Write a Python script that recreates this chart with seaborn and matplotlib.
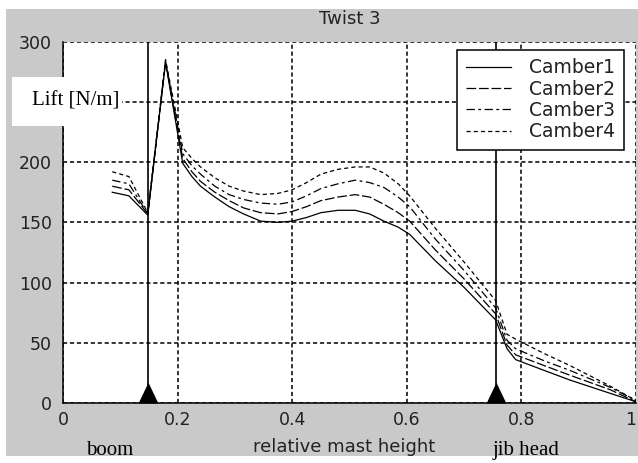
import numpy as np
import pandas as pd
import seaborn as sns
import matplotlib.pyplot as plt
from matplotlib.patches import Rectangle

# data (relative mast height vs lift per camber)
x_pos = [0.086, 0.115, 0.148, 0.179, 0.209, 0.225, 0.24, 0.265, 0.29, 0.315,
         0.345, 0.375, 0.40, 0.425, 0.45, 0.48, 0.51, 0.535, 0.56, 0.585,
         0.605, 0.65, 0.70, 0.755, 0.775, 0.79, 0.84, 0.885, 0.955, 1.0]
camber1 = [175, 172, 156, 283, 199, 188, 180, 171, 163, 157, 151, 150, 151, 154, 158,
           160, 160, 157, 151, 146, 140, 118, 96, 69, 45, 36, 27, 19, 8, 1]
camber2 = [180, 177, 157, 283, 203, 192, 184, 175, 168, 162, 158, 157, 159, 163, 168,
           171, 173, 171, 165, 158, 151, 127, 103, 74, 48, 40, 31, 23, 11, 1]
camber3 = [185, 182, 157, 284, 207, 197, 190, 180, 173, 169, 166, 165, 167, 172, 178,
           182, 185, 183, 179, 171, 163, 136, 110, 79, 52, 45, 35, 27, 13, 2]
camber4 = [192, 188, 158, 285, 212, 203, 196, 187, 180, 176, 173, 174, 177, 183, 190,
           194, 196, 196, 191, 182, 172, 145, 117, 85, 57, 53, 41, 31, 14, 2]
names = ["Camber1", "Camber2", "Camber3", "Camber4"]
styles = ["-", (0, (7, 2)), (0, (6, 2.5, 2, 2.5)), (0, (3, 2.2))]

boom_x = 0.148
jib_x = 0.755
x_ticks = [0, 0.2, 0.4, 0.6, 0.8, 1]
x_ticklabels = ["0", "0.2", "0.4", "0.6", "0.8", "1"]
y_ticks = [0, 50, 100, 150, 200, 250, 300]
# 250 is hidden behind the "Lift [N/m]" box in the original
y_ticklabels = ["0", "50", "100", "150", "200", "", "300"]

plt.rcParams['lines.scale_dashes'] = False
plt.rcParams['font.family'] = ['DejaVu Sans']

fig = plt.figure(figsize=(6.38, 4.63), dpi=100, facecolor='white')
# grey window background
fig.patches.append(Rectangle((0.0094, 0.0151), 0.9906, 0.9655, transform=fig.transFigure,
                             facecolor='#c9c9c9', edgecolor='none', zorder=-1))

ax = fig.add_axes([0.0987, 0.1296, 0.8982, 0.7804])
ax.set_facecolor('white')

for name, vals, ls in zip(names, [camber1, camber2, camber3, camber4], styles):
    sns.lineplot(x=x_pos, y=vals, ax=ax, color='k', lw=0.9, linestyle=ls,
                 label=name, errorbar=None, sort=False, legend=False)

ax.set_xlim(0, 1)
ax.set_ylim(0, 300)
ax.set_xticks(x_ticks)
ax.set_xticklabels(x_ticklabels)
ax.set_yticks(y_ticks)
ax.set_yticklabels(y_ticklabels)
ax.tick_params(length=0, labelsize=12.5, colors='#222222')
ax.tick_params(axis='x', pad=6)
ax.tick_params(axis='y', pad=8)
ax.get_xticklabels()[-1].set_horizontalalignment('right')
ax.set_xlabel("")
ax.set_ylabel("")

ax.set_axisbelow(True)
ax.grid(True, color='k', lw=1.1, linestyle=(0, (3, 2)))
for s in ['top', 'right']:
    ax.spines[s].set_visible(False)
for s in ['left', 'bottom']:
    ax.spines[s].set_linewidth(1.1)
    ax.spines[s].set_color('k')

# boom / jib head markers
ax.axvline(boom_x, color='k', lw=1.2)
ax.axvline(jib_x, color='k', lw=1.2)
tri = [(-10, 0), (10, 0), (0, 21), (-10, 0)]
ax.plot([boom_x, jib_x], [0, 0], ls='none', marker=tri, ms=30, color='k',
        mew=0, clip_on=False, zorder=5)

leg = ax.legend(loc='upper right', bbox_to_anchor=(0.979, 0.977), borderaxespad=0,
                fontsize=13.5, handlelength=2.4, handletextpad=1.0, labelspacing=0.12,
                borderpad=0.45, fancybox=False, framealpha=1, edgecolor='k')
leg.get_frame().set_linewidth(1.1)
for t in leg.get_texts():
    t.set_color('#222222')

ax.set_title("Twist 3", fontsize=13, pad=13, color='#222222')

# labels drawn on the figure
fig.text(0.1724, (463 - 455) / 463, "boom", family='Liberation Serif',
         fontsize=15, ha='center', va='baseline')
fig.text(0.54, (463 - 452) / 463, "relative mast height", fontsize=13, ha='center',
         va='baseline', color='#222222')
fig.text(0.8245, (463 - 455) / 463, "jib head", family='Liberation Serif',
         fontsize=15, ha='center', va='baseline')

fig.patches.append(Rectangle((0.0188, 0.7279), 0.1724, 0.1058, transform=fig.transFigure,
                             facecolor='white', edgecolor='none', zorder=10))
fig.text(0.119, 0.782, "Lift [N/m]", family='Liberation Serif', fontsize=15,
         ha='center', va='center', zorder=11)

fig.savefig("out.png", dpi=100)
